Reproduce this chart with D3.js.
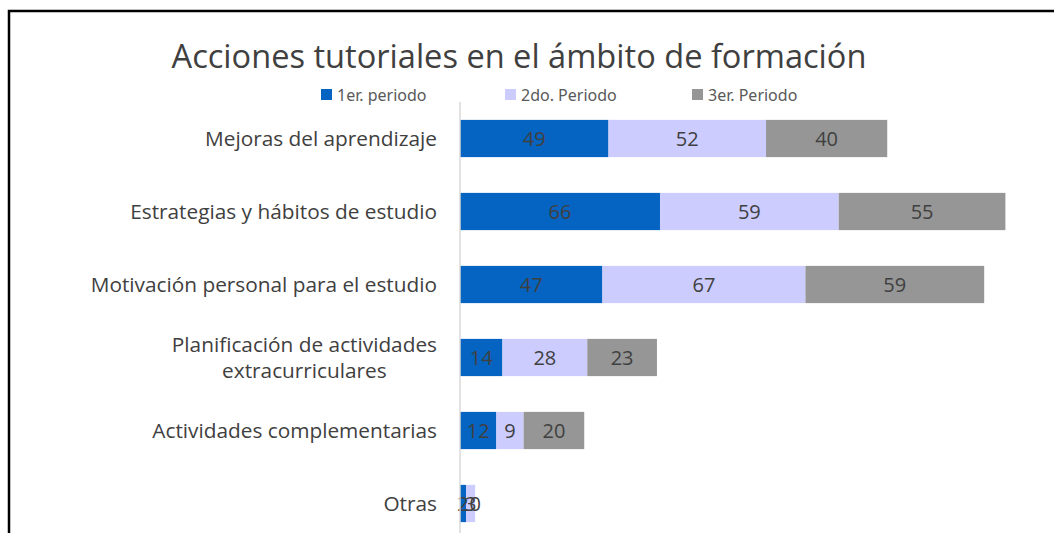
<!DOCTYPE html>
<html lang="es">
<head>
<meta charset="UTF-8">
<script src="https://d3js.org/d3.v7.min.js"></script>
<style>
  body { margin: 0; background: #fff; }
  svg { display: block; }
  .cat { font-family: "Open Sans", sans-serif; font-size: 20.8px; fill: #404040; }
  .val { font-family: "Open Sans", sans-serif; font-size: 20px; fill: #404040; }
  .legend text { font-family: "Noto Sans", sans-serif; font-size: 16px; fill: #595959; }
</style>
</head>
<body>
<div id="chart"></div>
<script>
// Data
const categories = [
  "Mejoras del aprendizaje",
  "Estrategias y hábitos de estudio",
  "Motivación personal para el estudio",
  "Planificación de actividades|extracurriculares",
  "Actividades complementarias",
  "Otras"
];
const seriesNames = ["1er. periodo", "2do. Periodo", "3er. Periodo"];
const periodo1 = [49, 66, 47, 14, 12, 2];
const periodo2 = [52, 59, 67, 28, 9, 3];
const periodo3 = [40, 55, 59, 23, 20, 0];
const colors = ["#0563C1", "#CCCCFF", "#969696"];

const width = 1054, height = 533;

const svg = d3.select("#chart").append("svg")
  .attr("width", width)
  .attr("height", height);

svg.append("rect").attr("width", width).attr("height", height).attr("fill", "#fff");

// frame of the chart area (cut off on right and bottom)
svg.append("rect")
  .attr("x", 9).attr("y", 11)
  .attr("width", 1200).attr("height", 800)
  .attr("fill", "none")
  .attr("stroke", "#000")
  .attr("stroke-width", 2.5);

// Title
svg.append("text")
  .attr("x", 519).attr("y", 68)
  .attr("text-anchor", "middle")
  .style("font-family", "'Open Sans', sans-serif")
  .style("font-size", "32.6px")
  .style("fill", "#404040")
  .text("Acciones tutoriales en el ámbito de formación");

// Scales
const plotLeft = 460, plotTop = 102, band = 73;
const x = d3.scaleLinear().domain([0, 100]).range([plotLeft, plotLeft + 303]);
const y = d3.scaleBand()
  .domain(categories)
  .range([plotTop, plotTop + band * categories.length])
  .paddingInner(0.49)
  .paddingOuter(0.245);

const table = categories.map((c, i) => ({ cat: c, vals: [periodo1[i], periodo2[i], periodo3[i]] }));
const stacked = d3.stack().keys([0, 1, 2]).value((d, k) => d.vals[k])(table);

// Bars
const layers = svg.append("g").selectAll("g")
  .data(stacked).join("g")
  .attr("fill", (d, i) => colors[i]);

layers.selectAll("rect")
  .data(d => d.map(s => ({ s, key: d.key })))
  .join("rect")
  .attr("x", d => x(d.s[0]))
  .attr("y", d => y(d.s.data.cat))
  .attr("width", d => x(d.s[1]) - x(d.s[0]))
  .attr("height", y.bandwidth());

// Value labels
const labels = svg.append("g");
stacked.forEach(layer => {
  labels.selectAll(null)
    .data(layer)
    .join("text")
    .attr("class", "val")
    .attr("x", s => (x(s[0]) + x(s[1])) / 2)
    .attr("y", s => y(s.data.cat) + y.bandwidth() / 2)
    .attr("dy", "0.36em")
    .attr("text-anchor", "middle")
    .text(s => s.data.vals[layer.key]);
});

// Axis line
svg.append("line")
  .attr("x1", plotLeft).attr("x2", plotLeft)
  .attr("y1", plotTop).attr("y2", height)
  .attr("stroke", "#d9d9d9")
  .attr("stroke-width", 1.5);

// Category labels
const labelRight = 437;
categories.forEach(c => {
  const lines = c.split("|");
  const cy = y(c) + y.bandwidth() / 2;
  const t = svg.append("text").attr("class", "cat");
  if (lines.length === 1) {
    t.attr("x", labelRight).attr("y", cy).attr("dy", "0.35em")
      .attr("text-anchor", "end").text(c);
  } else {
    const lh = 26;
    const tmp = lines.map(l => t.append("tspan").text(l));
    const w = d3.max(tmp, s => s.node().getComputedTextLength());
    const cx = labelRight - w / 2;
    t.attr("text-anchor", "middle");
    tmp.forEach((s, i) => s.attr("x", cx).attr("y", cy + (i - (lines.length - 1) / 2) * lh).attr("dy", "0.35em"));
  }
});

// Legend
const legendX = [321, 505, 692];
const legend = svg.append("g").attr("class", "legend");
seriesNames.forEach((name, i) => {
  legend.append("rect")
    .attr("x", legendX[i]).attr("y", 89)
    .attr("width", 11).attr("height", 11)
    .attr("fill", colors[i]);
  legend.append("text")
    .attr("x", legendX[i] + 16).attr("y", 101)
    .text(name);
});
</script>
</body>
</html>
